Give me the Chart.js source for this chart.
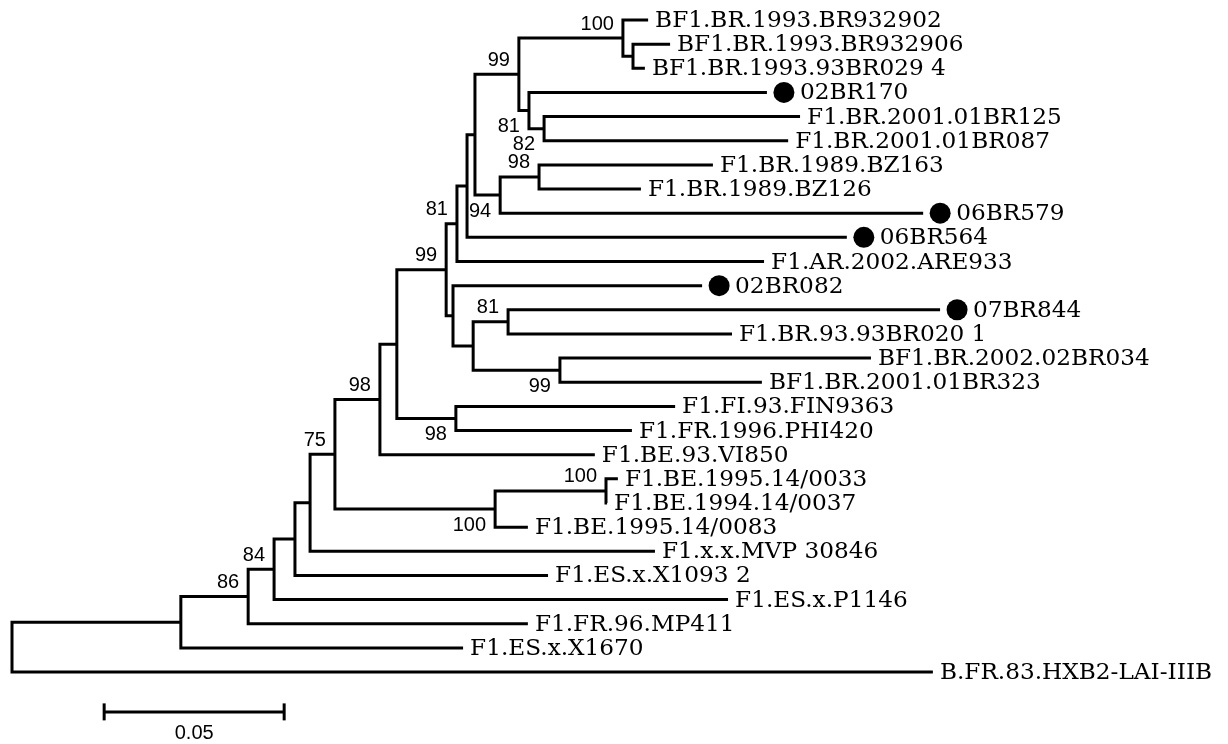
<!DOCTYPE html>
<html>
<head>
<meta charset="utf-8">
<script src="https://cdn.jsdelivr.net/npm/chart.js@4.4.1/dist/chart.umd.min.js"></script>
<style>
  html, body { margin: 0; padding: 0; background: #fff; }
  canvas { display: block; }
</style>
</head>
<body>
<canvas id="tree" width="1228" height="744"></canvas>
<script>
// leaves, top to bottom
var leafNames = ['BF1.BR.1993.BR932902', 'BF1.BR.1993.BR932906', 'BF1.BR.1993.93BR029 4', '02BR170',
  'F1.BR.2001.01BR125', 'F1.BR.2001.01BR087', 'F1.BR.1989.BZ163', 'F1.BR.1989.BZ126', '06BR579',
  '06BR564', 'F1.AR.2002.ARE933', '02BR082', '07BR844', 'F1.BR.93.93BR020 1', 'BF1.BR.2002.02BR034',
  'BF1.BR.2001.01BR323', 'F1.FI.93.FIN9363', 'F1.FR.1996.PHI420', 'F1.BE.93.VI850', 'F1.BE.1995.14/0033',
  'F1.BE.1994.14/0037', 'F1.BE.1995.14/0083', 'F1.x.x.MVP 30846', 'F1.ES.x.X1093 2', 'F1.ES.x.P1146',
  'F1.FR.96.MP411', 'F1.ES.x.X1670', 'B.FR.83.HXB2-LAI-IIIB'];
// distance of each leaf from the root
var leafDist = [0.1767, 0.1828, 0.1758, 0.2097, 0.2189, 0.2156, 0.1947, 0.1747, 0.2531, 0.2319,
  0.2089, 0.1917, 0.2578, 0.2000, 0.2386, 0.2083, 0.1842, 0.1722, 0.1619, 0.1683,
  0.1653, 0.1433, 0.1786, 0.1489, 0.1989, 0.1433, 0.1253, 0.2558];
var marked = ['02BR170', '06BR579', '06BR564', '02BR082', '07BR844'];

// internal nodes: distance from root, children (number = leaf, 'nX' = node), bootstrap
var nodeDist = [0, 0.0469, 0.0656, 0.0728, 0.0786, 0.0828, 0.0897, 0.1022, 0.1069, 0.1206,
  0.1236, 0.1264, 0.1286, 0.1408, 0.1697, 0.1725, 0.1436, 0.1478, 0.1356, 0.1464,
  0.1225, 0.1281, 0.1378, 0.1522, 0.1233, 0.1342, 0.1650];
var nodeKids = [['n1', 27], ['n2', 26], ['n3', 25], ['n4', 24], ['n5', 23], ['n6', 22], ['n7', 'n25'],
  ['n8', 18], ['n9', 'n24'], ['n10', 'n20'], ['n11', 10], ['n12', 9], ['n13', 'n18'], ['n14', 'n16'],
  [0, 'n15'], [1, 2], [3, 'n17'], [4, 5], ['n19', 8], [6, 7], [11, 'n21'], ['n22', 'n23'], [12, 13],
  [14, 15], [16, 17], ['n26', 21], [19, 20]];
var nodeBoot = [null, null, 86, 84, null, null, 75, 98, null, 99, 81, null, null, 99, 100, null,
  81, 82, 94, 98, null, null, 81, 99, 98, 100, 100];
var bootSide = ['', '', 'a', 'a', '', '', 'a', 'a', '', 'a', 'a', '', '', 'a', 'a', '',
  'b', 'b', 'b', 'a', '', '', 'a', 'b', 'b', 'b', 'a'];

var scaleBarLen = 0.05;
var scaleBarStart = 0.0256;
var scaleBarRow = 28.65;

function distOf(ref) {
  return typeof ref === 'number' ? leafDist[ref] : nodeDist[+ref.slice(1)];
}
function rowOf(ref) {
  if (typeof ref === 'number') return ref;
  var k = nodeKids[+ref.slice(1)];
  return (rowOf(k[0]) + rowOf(k[k.length - 1])) / 2;
}

var datasets = nodeKids.map(function (kids, i) {
  var a = kids[0], b = kids[kids.length - 1];
  return {
    data: [
      { x: distOf(a), y: rowOf(a) },
      { x: nodeDist[i], y: rowOf(a) },
      { x: nodeDist[i], y: rowOf(b) },
      { x: distOf(b), y: rowOf(b) }
    ],
    showLine: true,
    borderColor: '#000',
    borderWidth: 3,
    borderJoinStyle: 'miter',
    pointRadius: 0
  };
});

datasets.push({
  data: [{ x: scaleBarStart, y: scaleBarRow }, { x: scaleBarStart + scaleBarLen, y: scaleBarRow }],
  showLine: true,
  borderColor: '#000',
  borderWidth: 3,
  pointStyle: 'line',
  rotation: 90,
  pointRadius: 8.5,
  pointBorderWidth: 3,
  pointBorderColor: '#000'
});

var labelPlugin = {
  id: 'treeLabels',
  afterDatasetsDraw: function (chart) {
    var ctx = chart.ctx, xs = chart.scales.x, ys = chart.scales.y;
    ctx.save();
    ctx.fillStyle = '#000';
    ctx.textBaseline = 'middle';

    // leaf names and marker dots
    ctx.font = '23.2px "DejaVu Serif"';
    ctx.textAlign = 'left';
    leafNames.forEach(function (name, i) {
      var px = xs.getPixelForValue(leafDist[i]);
      var py = ys.getPixelForValue(i);
      var gap = 7;
      if (marked.indexOf(name) >= 0) {
        ctx.beginPath();
        ctx.arc(px + 17, py, 10.5, 0, Math.PI * 2);
        ctx.fill();
        gap = 33;
      }
      ctx.fillText(name, px + gap, py + 1);
    });

    // bootstrap values
    ctx.font = '20px "Liberation Sans"';
    ctx.textAlign = 'right';
    nodeBoot.forEach(function (v, i) {
      if (v == null) return;
      var px = xs.getPixelForValue(nodeDist[i]);
      var py = ys.getPixelForValue(rowOf('n' + i));
      ctx.fillText(String(v), px - 9, bootSide[i] === 'a' ? py - 14 : py + 16);
    });

    // scale bar label
    ctx.textAlign = 'center';
    ctx.fillText(String(scaleBarLen), xs.getPixelForValue(scaleBarStart + scaleBarLen / 2),
      ys.getPixelForValue(scaleBarRow) + 22);
    ctx.restore();
  }
};

new Chart(document.getElementById('tree'), {
  type: 'scatter',
  data: { datasets: datasets },
  options: {
    responsive: false,
    animation: false,
    events: [],
    layout: { padding: 0, autoPadding: false },
    plugins: { legend: { display: false }, tooltip: { enabled: false } },
    scales: {
      x: { type: 'linear', display: false, min: -12 / 3600, max: 1216 / 3600 },
      y: { type: 'linear', display: false, reverse: true, min: -0.828, max: 29.98 }
    }
  },
  plugins: [labelPlugin]
});
</script>
</body>
</html>
